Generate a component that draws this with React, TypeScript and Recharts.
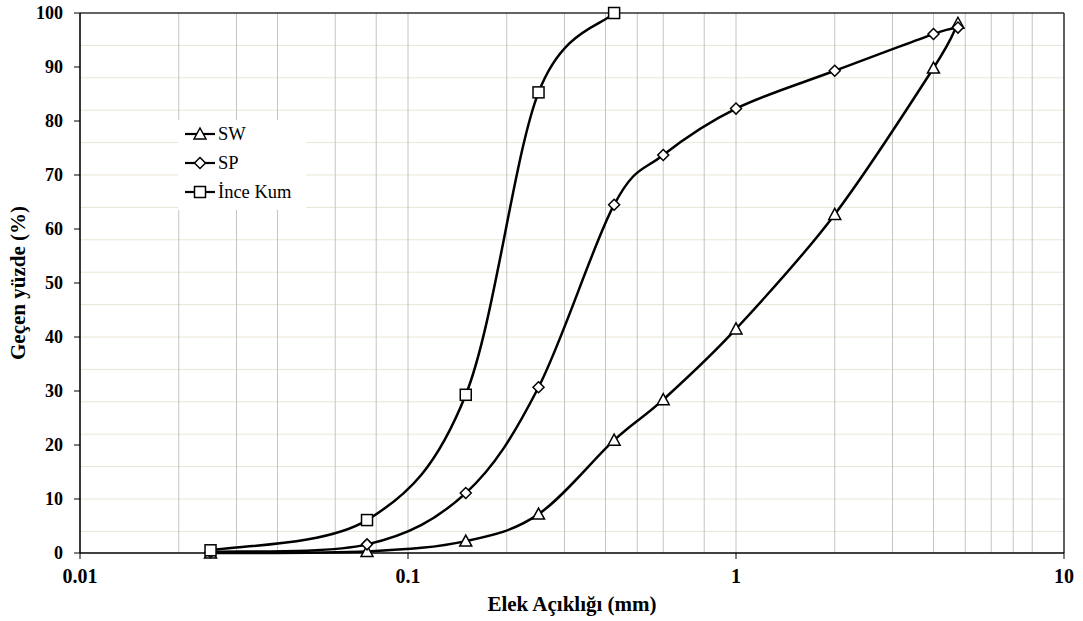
import {
  LineChart,
  Line,
  XAxis,
  YAxis,
  CartesianGrid,
  ReferenceLine,
  Legend,
} from "recharts";

// sieve analysis (grain size distribution)
const swData = [
  { x: 0.025, y: 0 },
  { x: 0.075, y: 0.3 },
  { x: 0.15, y: 2.2 },
  { x: 0.25, y: 7.2 },
  { x: 0.425, y: 20.9 },
  { x: 0.6, y: 28.4 },
  { x: 1, y: 41.5 },
  { x: 2, y: 62.7 },
  { x: 4, y: 89.8 },
  { x: 4.75, y: 98.1 },
];

const spData = [
  { x: 0.025, y: 0.2 },
  { x: 0.075, y: 1.6 },
  { x: 0.15, y: 11.1 },
  { x: 0.25, y: 30.7 },
  { x: 0.425, y: 64.5 },
  { x: 0.6, y: 73.7 },
  { x: 1, y: 82.3 },
  { x: 2, y: 89.3 },
  { x: 4, y: 96.1 },
  { x: 4.75, y: 97.3 },
];

const kumData = [
  { x: 0.025, y: 0.5 },
  { x: 0.075, y: 6.1 },
  { x: 0.15, y: 29.3 },
  { x: 0.25, y: 85.3 },
  { x: 0.425, y: 100 },
];

const xTicks = [0.01, 0.1, 1, 10];
const yTicks = [0, 10, 20, 30, 40, 50, 60, 70, 80, 90, 100];
const xGrid = [
  0.01, 0.02, 0.03, 0.04, 0.05, 0.06, 0.07, 0.08, 0.09,
  0.1, 0.2, 0.3, 0.4, 0.5, 0.6, 0.7, 0.8, 0.9,
  1, 2, 3, 4, 5, 6, 7, 8, 9, 10,
];
const yGrid = [
  0, 2, 4, 6, 8, 10, 12, 14, 16, 18, 20, 22, 24, 26, 28, 30, 32, 34, 36, 38,
  40, 42, 44, 46, 48, 50, 52, 54, 56, 58, 60, 62, 64, 66, 68, 70, 72, 74, 76,
  78, 80, 82, 84, 86, 88, 90, 92, 94, 96, 98, 100,
];

const FONT = "'Liberation Serif', 'Times New Roman', serif";

// Excel-like smoothed line (catmull-rom, 1/6 tangents)
const excelCurve = (context: any) => {
  let pts: number[][] = [];
  return {
    areaStart() {},
    areaEnd() {},
    lineStart() {
      pts = [];
    },
    point(x: number, y: number) {
      pts.push([+x, +y]);
    },
    lineEnd() {
      if (!pts.length) return;
      context.moveTo(pts[0][0], pts[0][1]);
      for (let i = 0; i < pts.length - 1; i++) {
        const p0 = pts[i - 1] || pts[i];
        const p1 = pts[i];
        const p2 = pts[i + 1];
        const p3 = pts[i + 2] || p2;
        context.bezierCurveTo(
          p1[0] + (p2[0] - p0[0]) / 6,
          p1[1] + (p2[1] - p0[1]) / 6,
          p2[0] - (p3[0] - p1[0]) / 6,
          p2[1] - (p3[1] - p1[1]) / 6,
          p2[0],
          p2[1]
        );
      }
    },
  };
};

const Marker = ({ kind, cx, cy }: { kind: string; cx: number; cy: number }) => {
  if (kind === "tri") {
    return (
      <path
        d={`M${cx},${cy - 6}L${cx + 6},${cy + 5}L${cx - 6},${cy + 5}Z`}
        fill="#fff"
        stroke="#000"
        strokeWidth={1.5}
      />
    );
  }
  if (kind === "dia") {
    return (
      <path
        d={`M${cx},${cy - 5.5}L${cx + 5.5},${cy}L${cx},${cy + 5.5}L${cx - 5.5},${cy}Z`}
        fill="#fff"
        stroke="#000"
        strokeWidth={1.5}
      />
    );
  }
  return (
    <rect
      x={cx - 5.5}
      y={cy - 5.5}
      width={11}
      height={11}
      fill="#fff"
      stroke="#000"
      strokeWidth={1.5}
    />
  );
};

const dotFor = (kind: string) => (props: any) => (
  <Marker key={`${kind}-${props.index}`} kind={kind} cx={props.cx} cy={props.cy} />
);

const legendItems = [
  { name: "SW", kind: "tri" },
  { name: "SP", kind: "dia" },
  { name: "İnce Kum", kind: "sq" },
];

const LegendBox = () => (
  <svg width={128} height={90} style={{ display: "block", background: "#fff" }}>
    {legendItems.map((it, i) => {
      const cy = 14 + i * 29;
      return (
        <g key={it.name}>
          <line x1={7} x2={37} y1={cy} y2={cy} stroke="#000" strokeWidth={2.2} />
          <Marker kind={it.kind} cx={22} cy={cy} />
          <text
            x={40}
            y={cy}
            dominantBaseline="central"
            fontFamily={FONT}
            fontSize={18.5}
            fill="#000"
          >
            {it.name}
          </text>
        </g>
      );
    })}
  </svg>
);

const fmt = (v: number) => String(v);

const YTitle = (props: any) => {
  const vb = props.viewBox;
  const x = vb.x + 18;
  const y = vb.y + vb.height / 2;
  return (
    <text
      x={x}
      y={y}
      transform={`rotate(-90 ${x} ${y})`}
      textAnchor="middle"
      dominantBaseline="central"
      fontFamily={FONT}
      fontWeight="bold"
      fontSize={21}
      fill="#000"
    >
      Geçen yüzde (%)
    </text>
  );
};

const XTitle = (props: any) => {
  const vb = props.viewBox;
  return (
    <text
      x={vb.x + vb.width / 2}
      y={604}
      textAnchor="middle"
      dominantBaseline="central"
      fontFamily={FONT}
      fontWeight="bold"
      fontSize={21}
      fill="#000"
    >
      Elek Açıklığı (mm)
    </text>
  );
};

const App = () => {
  const yTickStyle = {
    fontFamily: FONT,
    fontWeight: "bold" as const,
    fontSize: 18,
    fill: "#000",
  };
  const xTickStyle = {
    fontFamily: FONT,
    fontWeight: "bold" as const,
    fontSize: 20,
    fill: "#000",
  };

  return (
    <div style={{ position: "absolute", left: 0, top: 0, background: "#fff" }}>
      <LineChart
        width={1083}
        height={621}
        margin={{ top: 13, right: 19, bottom: 0, left: 0 }}
      >
        <CartesianGrid
          horizontal={true}
          vertical={false}
          horizontalValues={yGrid}
          stroke="#e9e5d4"
          strokeWidth={1}
        />
        <CartesianGrid
          horizontal={false}
          vertical={true}
          verticalValues={xGrid}
          stroke="#c4c4c4"
          strokeWidth={1}
        />
        <XAxis
          dataKey="x"
          type="number"
          scale="log"
          domain={[0.01, 10]}
          ticks={xTicks}
          tickFormatter={fmt}
          allowDataOverflow
          height={68}
          tick={xTickStyle}
          tickSize={6}
          tickMargin={10}
          axisLine={{ stroke: "#000", strokeWidth: 1.5 }}
          tickLine={{ stroke: "#000" }}
          label={<XTitle />}
        />
        <YAxis
          dataKey="y"
          type="number"
          domain={[0, 100]}
          ticks={yTicks}
          width={80}
          tick={yTickStyle}
          tickSize={6}
          tickMargin={11}
          axisLine={{ stroke: "#000", strokeWidth: 1.5 }}
          tickLine={{ stroke: "#000" }}
          label={<YTitle />}
        />
        <ReferenceLine y={100} stroke="#333" strokeWidth={1.5} />
        <ReferenceLine x={10} stroke="#333" strokeWidth={1.5} />
        <Legend
          layout="vertical"
          align="center"
          verticalAlign="middle"
          content={() => <LegendBox />}
          wrapperStyle={{ left: 178, top: 120, width: 128, height: 90 }}
        />
        <Line
          data={swData}
          dataKey="y"
          name="SW"
          type={excelCurve as any}
          stroke="#000"
          strokeWidth={2.5}
          dot={dotFor("tri")}
          isAnimationActive={false}
        />
        <Line
          data={spData}
          dataKey="y"
          name="SP"
          type={excelCurve as any}
          stroke="#000"
          strokeWidth={2.5}
          dot={dotFor("dia")}
          isAnimationActive={false}
        />
        <Line
          data={kumData}
          dataKey="y"
          name="İnce Kum"
          type={excelCurve as any}
          stroke="#000"
          strokeWidth={2.5}
          dot={dotFor("sq")}
          isAnimationActive={false}
        />
      </LineChart>
    </div>
  );
};

export default App;
